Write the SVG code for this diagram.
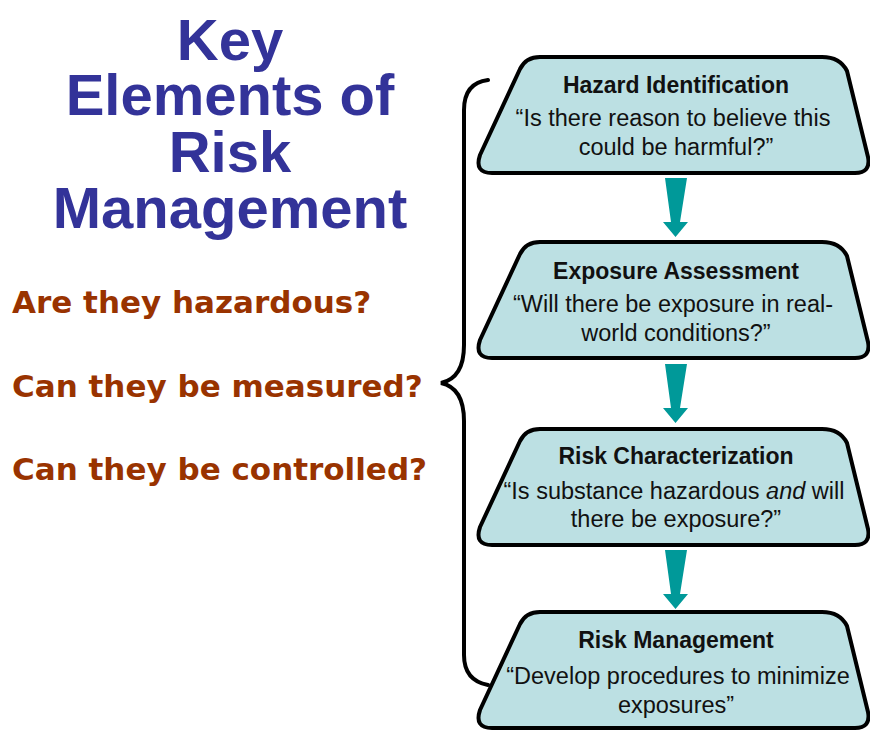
<svg xmlns="http://www.w3.org/2000/svg" width="870" height="730" viewBox="0 0 870 730">
<style>
.title{font-family:"Liberation Sans",Arial,sans-serif;font-weight:bold;font-size:58px;fill:#333399;text-anchor:middle}
.q{font-family:"DejaVu Sans",Verdana,sans-serif;font-weight:bold;font-size:31px;fill:#993300}
.box{fill:#bce0e3;stroke:#000;stroke-width:4;stroke-linejoin:round}
.bt{font-family:"Liberation Sans",Arial,sans-serif;font-weight:bold;font-size:23px;fill:#111;text-anchor:middle}
.bs{font-family:"Liberation Sans",Arial,sans-serif;font-size:23.5px;fill:#111;text-anchor:middle}
.arrow{fill:#009999}
.brace{fill:none;stroke:#000;stroke-width:4;stroke-linecap:round}
</style>
<defs>
<path id="trap" d="M 540,0 L 822,0 Q 840,0 847,14 L 868,100 Q 871,116 855,116 L 492,116 Q 474,116 480,98 L 520,12 Q 526,0 540,0 Z"/>
<polygon id="arr" points="665,0 687,0 680,44 688,44 675.5,59 663,44 671,44"/>
</defs>
<g id="title">
<text class="title" x="230" y="60">Key</text>
<text class="title" x="230" y="115">Elements of</text>
<text class="title" x="230" y="172">Risk</text>
<text class="title" x="230" y="228">Management</text>
</g>
<g id="questions">
<text class="q" x="12" y="313">Are they hazardous?</text>
<text class="q" x="12" y="397">Can they be measured?</text>
<text class="q" x="12" y="480">Can they be controlled?</text>
</g>
<g id="connectors">
<path class="brace" d="M 488 80 C 472 82, 464 92, 464 110 L 464 345 C 464 368, 455 380, 441 383 C 455 386, 464 398, 464 421 L 464 655 C 464 672, 472 682, 488 685"/>
<use href="#arr" class="arrow" transform="translate(0,178)"/>
<use href="#arr" class="arrow" transform="translate(0,364)"/>
<use href="#arr" class="arrow" transform="translate(0,550)"/>
</g>
<g id="hazard-identification">
<use href="#trap" class="box" transform="translate(0,57)"/>
<text class="bt" x="676" y="93">Hazard Identification</text>
<text class="bs" x="673" y="126">“Is there reason to believe this</text>
<text class="bs" x="676" y="155">could be harmful?”</text>
</g>
<g id="exposure-assessment">
<use href="#trap" class="box" transform="translate(0,242)"/>
<text class="bt" x="676" y="279">Exposure Assessment</text>
<text class="bs" x="673" y="312">“Will there be exposure in real-</text>
<text class="bs" x="676" y="341">world conditions?”</text>
</g>
<g id="risk-characterization">
<use href="#trap" class="box" transform="translate(0,429)"/>
<text class="bt" x="676" y="464">Risk Characterization</text>
<text class="bs" x="674" y="499">“Is substance hazardous <tspan font-style="italic">and</tspan> will</text>
<text class="bs" x="676" y="527">there be exposure?”</text>
</g>
<g id="risk-management">
<use href="#trap" class="box" transform="translate(0,612)"/>
<text class="bt" x="676" y="648">Risk Management</text>
<text class="bs" x="678" y="684">“Develop procedures to minimize</text>
<text class="bs" x="676" y="713">exposures”</text>
</g>
</svg>
